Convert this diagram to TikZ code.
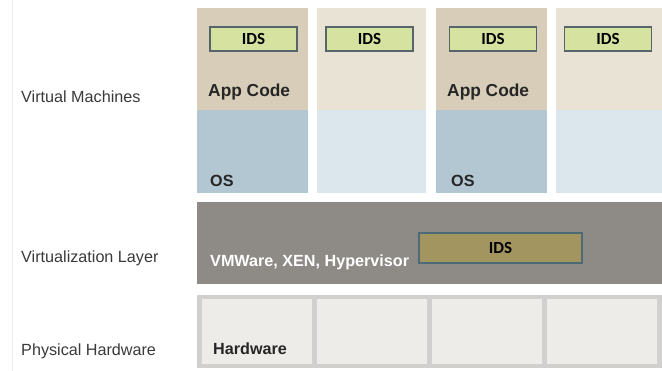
\documentclass[tikz,border=0pt]{standalone}
\usepackage{fontspec}
\setmainfont{Liberation Sans}
\newfontfamily\idsfont{Carlito}
\usetikzlibrary{positioning}

\definecolor{tandark}{HTML}{D7CDB9}
\definecolor{tanlight}{HTML}{E9E3D6}
\definecolor{bluedark}{HTML}{B3C7D3}
\definecolor{bluelight}{HTML}{DCE6ED}
\definecolor{idsgreen}{HTML}{D5E2A0}
\definecolor{idsline}{HTML}{55656A}
\definecolor{olive}{HTML}{A39560}
\definecolor{oliveline}{HTML}{4D6A78}
\definecolor{hyper}{HTML}{8E8A86}
\definecolor{hwline}{HTML}{D2D0CE}
\definecolor{hwcell}{HTML}{EEECE9}
\definecolor{labeltext}{HTML}{3A3A3A}

\tikzset{
  sidelabel/.style={anchor=base west, inner sep=0pt, text=labeltext, font=\fontsize{13.8}{15}\selectfont},
  boldlabel/.style={anchor=base west, inner sep=0pt, text=black!85, font=\fontsize{13.8}{15}\selectfont\bfseries},
  idsbox/.style={draw=idsline, line width=1.2pt, fill=idsgreen, inner sep=0pt,
    minimum width=2.61cm, minimum height=0.72cm, font=\idsfont\fontsize{14.5}{16}\selectfont\bfseries},
  idswide/.style={draw=oliveline, line width=1.2pt, fill=olive, inner sep=0pt,
    minimum width=4.89cm, minimum height=0.9cm, font=\idsfont\fontsize{14.5}{16}\selectfont\bfseries}
}

\begin{document}
\begin{tikzpicture}[x=0.03cm,y=-0.03cm]
\useasboundingbox (0,0) rectangle (662,371);
\fill[white] (0,0) rectangle (662,371);
\draw[black!8, line width=0.6pt] (12,0) -- (12,371);

% virtual machines
\fill[tandark]  (197,8) rectangle (308,110);
\fill[tanlight] (317,8) rectangle (426,110);
\fill[tandark]  (436,8) rectangle (547,110);
\fill[tanlight] (556,8) rectangle (662,110);
\fill[bluedark]  (197,110) rectangle (308,193);
\fill[bluelight] (317,110) rectangle (426,193);
\fill[bluedark]  (436,110) rectangle (547,193);
\fill[bluelight] (556,110) rectangle (662,193);

\node[idsbox] (ids1) at (253.5,39) {IDS};
\node[idsbox] (ids2) at (369.5,39) {IDS};
\node[idsbox] (ids3) at (493,39) {IDS};
\node[idsbox] (ids4) at (608,39) {IDS};

\node[boldlabel, font=\fontsize{14.8}{16}\selectfont\bfseries] (app1) at (208,97) {App Code};
\node[boldlabel, font=\fontsize{14.8}{16}\selectfont\bfseries] (app3) at (447,97) {App Code};
\node[boldlabel] (os1) at (210,187) {OS};
\node[boldlabel] (os3) at (451,187) {OS};

% virtualization layer
\fill[hyper] (197,202) rectangle (662,284);
\node[boldlabel, text=white] (hyp) at (210,267) {VMWare, XEN, Hypervisor};
\node[idswide] (ids5) at (500.5,248) {IDS};

% physical hardware
\fill[hwline] (197,295) rectangle (662,368);
\fill[hwcell] (202,299) rectangle (312,364);
\fill[hwcell] (317,299) rectangle (427,364);
\fill[hwcell] (432,299) rectangle (542,364);
\fill[hwcell] (547,299) rectangle (657,364);
\node[boldlabel] (hw) at (213,355) {Hardware};

% left labels
\node[sidelabel] (vm) at (21,103) {Virtual Machines};
\node[sidelabel] (vl) at (21,263) {Virtualization Layer};
\node[sidelabel] (ph) at (21,356) {Physical Hardware};
\end{tikzpicture}
\end{document}
